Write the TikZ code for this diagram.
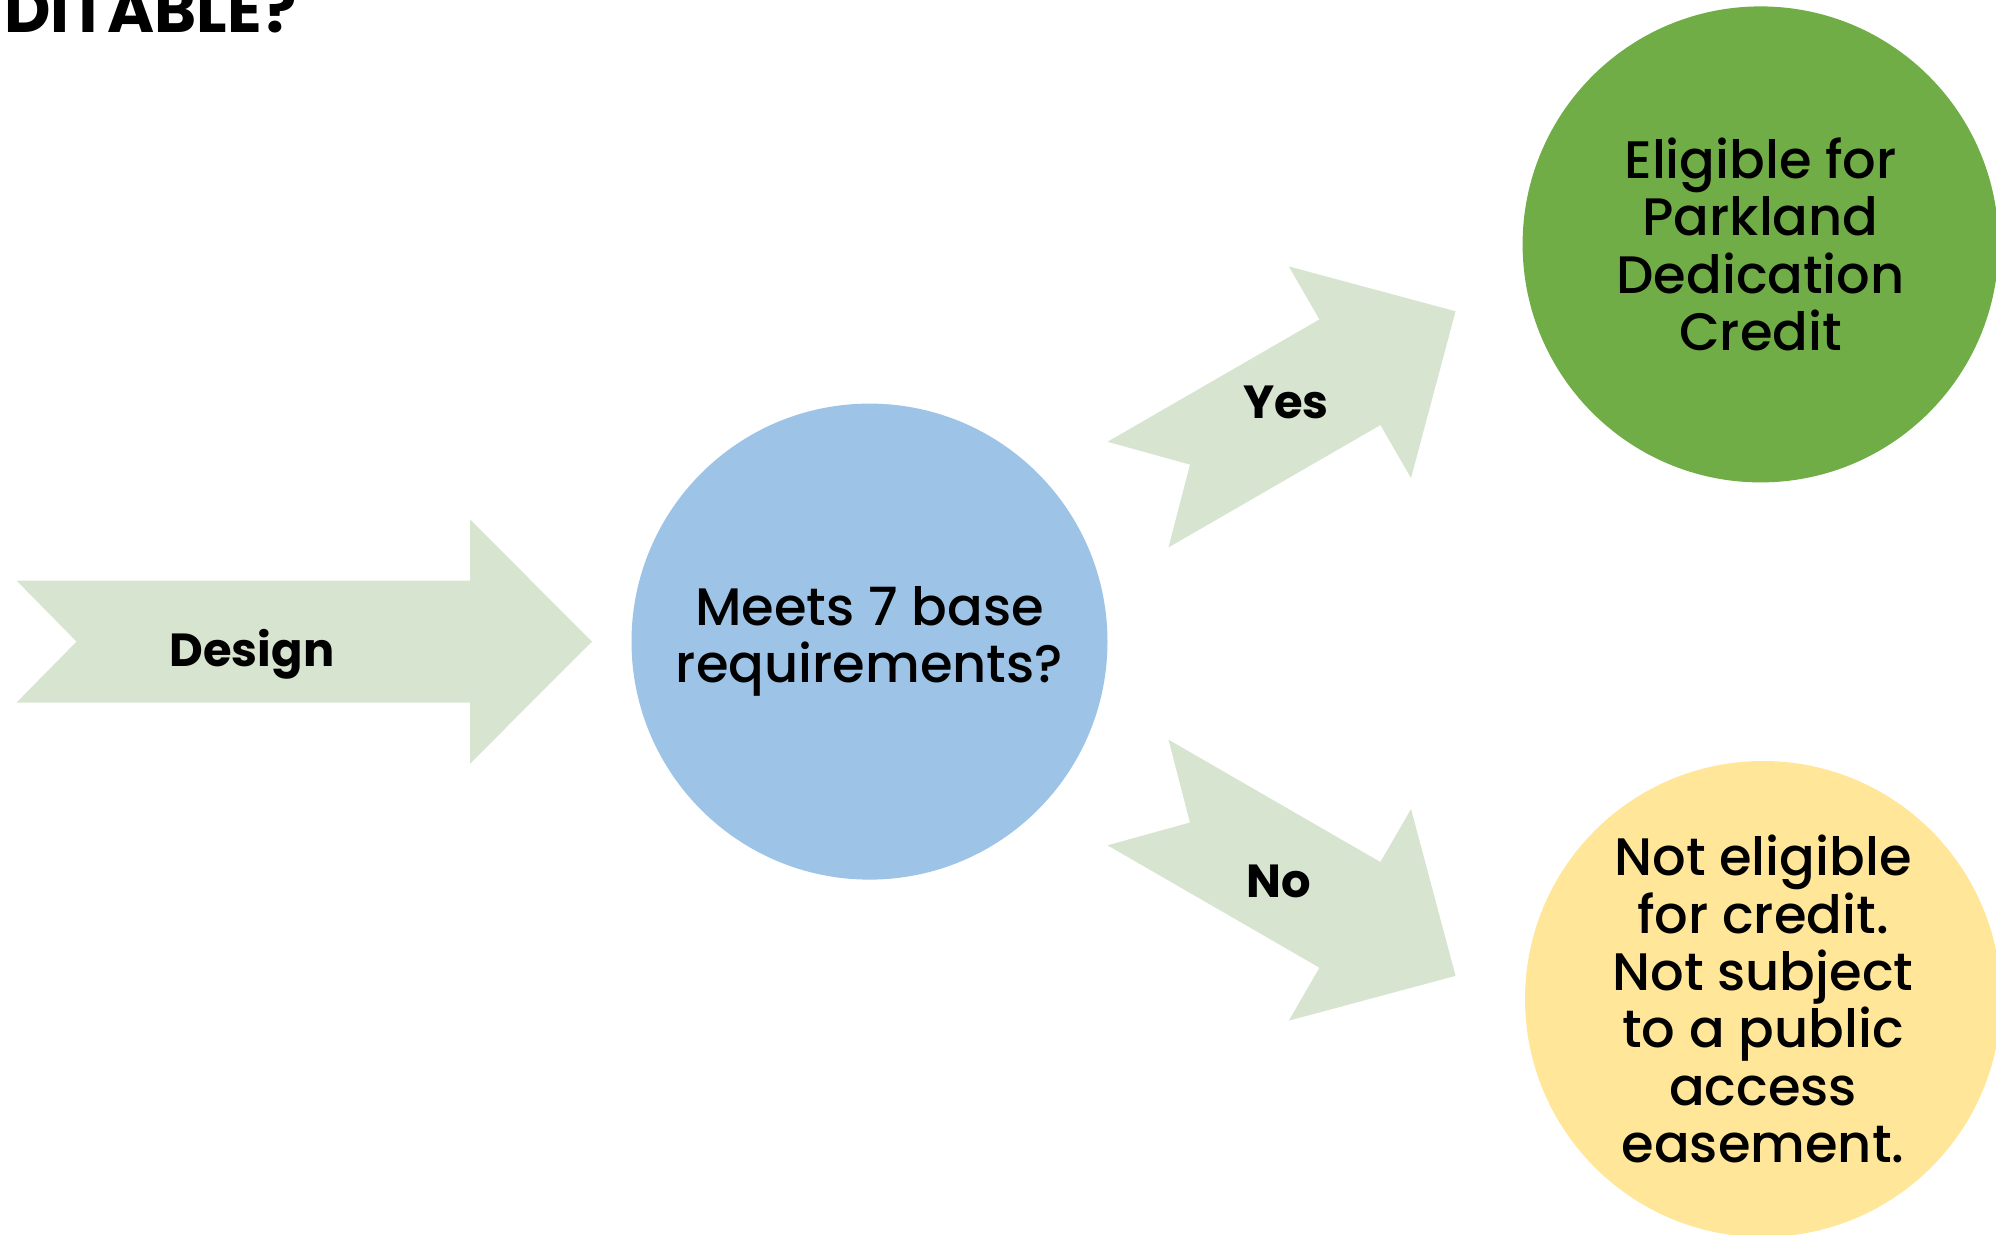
\documentclass[tikz,border=0pt]{standalone}
\usepackage{fontspec}
\setmainfont{Poppins}
\newfontfamily\mediumfont{Poppins Medium}
\definecolor{sage}{HTML}{D7E4D0}
\definecolor{skyblue}{HTML}{9DC3E6}
\definecolor{leafgreen}{HTML}{70AD47}
\definecolor{paleyellow}{HTML}{FFE699}
\begin{document}
\begin{tikzpicture}[
  bubble/.style={circle, minimum size=4.76cm, inner sep=0pt, align=center,
                 font=\mediumfont\fontsize{15}{16.3}\selectfont},
  tag/.style={font=\fontsize{13.2}{16}\selectfont\bfseries},
  pics/barrow/.style={code={
    \fill[sage] (0,0.61) -- (#1-1.22,0.61) -- (#1-1.22,1.222) -- (#1,0)
      -- (#1-1.22,-1.222) -- (#1-1.22,-0.61) -- (0,-0.61) -- (0.6,0) -- cycle;
  }}
]
\useasboundingbox (0,0) rectangle (19.96,-12.35);

\node[anchor=base west, font=\fontsize{18.2}{20}\selectfont\bfseries] (title)
    at (-0.08,-0.32) {DITABLE?};

% big arrows
\pic at (0.165,-6.416) {barrow=5.755};
\pic[rotate=30] at (11.38,-4.946) {barrow=3.667};
\pic[rotate=-30] at (11.38,-7.925) {barrow=3.667};

\node[tag] (design) at (2.52,-6.54) {Design};
\node[tag] (yes)    at (12.86,-4.02) {Yes};
\node[tag] (no)     at (12.79,-8.81) {No};

% decision and outcomes
\node[bubble, fill=skyblue]    (base)  at (8.695,-6.416)
    {Meets 7 base\\requirements?};
\node[bubble, fill=leafgreen]  (elig)  at (17.606,-2.444)
    {Eligible for\\Parkland\\Dedication\\Credit};
\node[bubble, fill=paleyellow] (noelig) at (17.63,-9.99)
    {Not eligible\\for credit.\\Not subject\\to a public\\access\\easement.};

\end{tikzpicture}
\end{document}
